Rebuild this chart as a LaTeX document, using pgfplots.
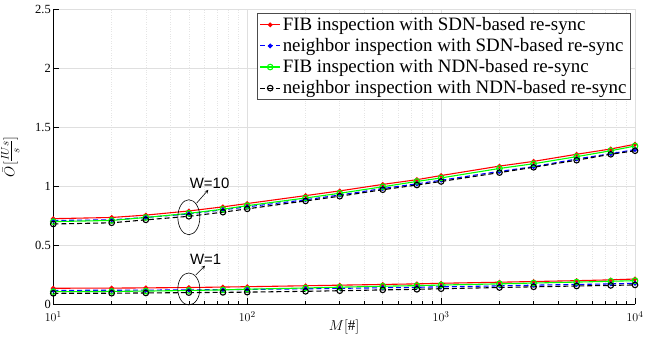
\documentclass[border=0pt]{standalone}
\usepackage{pgfplots}
\usepackage{pgfplotstable}
\pgfplotsset{compat=1.18}
\usepackage{fontspec}
\setmainfont{Liberation Serif}
\newfontfamily\arial{Liberation Sans}
\pgfplotstableread{
x r10 g10 b10 k10 r1 g1 b1 k1
10 0.725 0.700 0.710 0.680 0.136 0.107 0.118 0.093
20 0.735 0.710 0.715 0.690 0.137 0.109 0.119 0.094
30 0.755 0.735 0.735 0.715 0.139 0.112 0.120 0.096
50 0.790 0.770 0.765 0.745 0.142 0.117 0.122 0.099
75 0.825 0.805 0.800 0.780 0.146 0.122 0.124 0.101
100 0.853 0.835 0.825 0.808 0.149 0.128 0.126 0.103
200 0.920 0.900 0.885 0.875 0.157 0.138 0.131 0.110
300 0.960 0.940 0.925 0.915 0.162 0.145 0.135 0.115
500 1.015 0.995 0.980 0.970 0.168 0.153 0.140 0.122
750 1.055 1.040 1.020 1.010 0.173 0.158 0.144 0.127
1000 1.090 1.070 1.050 1.040 0.178 0.163 0.148 0.132
2000 1.170 1.150 1.125 1.115 0.187 0.173 0.156 0.142
3000 1.210 1.190 1.165 1.160 0.193 0.180 0.162 0.148
5000 1.270 1.250 1.230 1.220 0.200 0.188 0.168 0.155
7500 1.315 1.300 1.275 1.270 0.207 0.195 0.173 0.160
10000 1.355 1.340 1.310 1.300 0.214 0.200 0.178 0.164
}\data
\begin{document}
\begin{tikzpicture}
\path[use as bounding box] (-53.3bp,-45.7bp) rectangle (613.7bp,304.3bp);
\begin{axis}[
  at={(0,0)}, anchor=south west, scale only axis,
  width=581.7bp, height=295.3bp,
  xmode=log, xmin=10, xmax=10000, ymin=0, ymax=2.5,
  xtick={10,100,1000,10000},
  ytick={0,0.5,1,1.5,2,2.5},
  yticklabels={0,0.5,1,1.5,2,2.5},
  axis x line*=bottom, axis y line*=left,
  axis line style={black, line width=0.8pt, -},
  tick align=inside,
  major tick length=6bp, minor tick length=3bp,
  tick style={black, line width=0.6pt},
  xmajorgrids, ymajorgrids, xminorgrids,
  major grid style={gray!25, line width=0.6pt},
  minor grid style={gray!20, dotted, line width=0.5pt},
  tick label style={font=\fontsize{12.5}{14}\selectfont},
  xticklabel style={yshift=-4bp},
  yticklabel style={xshift=1bp},
  xlabel={$M[\#]$},
  ylabel={$\bar{O}[\frac{IUs}{s}]$},
  label style={font=\fontsize{15}{17}\selectfont},
  xlabel style={at={(axis description cs:0.5,-0.077)}, anchor=center},
  ylabel style={at={(axis description cs:-0.074,0.5)}, anchor=center, rotate=0},
  clip=false,
  legend cell align=left,
  legend style={at={(0.993,0.986)}, anchor=north east, draw=black!70, line width=0.8pt, fill=white,
    font=\fontsize{19}{20}\selectfont, inner sep=2pt, row sep=2.5pt},
  legend image code/.code={\draw[mark repeat=2,mark phase=2,#1] plot coordinates {(0bp,0bp) (10bp,0bp) (20bp,0bp)};},
  every axis plot/.append style={line width=1.1pt},
]
\addplot[red, mark=*, mark size=1.8pt, mark options={solid}] table[x=x,y=r10]{\data};
\addplot[blue, dash pattern=on 5pt off 3pt, mark=*, mark size=1.8pt, mark options={solid}] table[x=x,y=b10]{\data};
\addplot[green, mark=o, mark size=2.8pt, mark options={solid}] table[x=x,y=g10]{\data};
\addplot[black, dash pattern=on 5pt off 3pt, mark=o, mark size=2.8pt, mark options={solid}] table[x=x,y=k10]{\data};
\legend{FIB inspection with SDN-based re-sync, neighbor inspection with SDN-based re-sync, FIB inspection with NDN-based re-sync, neighbor inspection with NDN-based re-sync}
\addplot[red, mark=*, mark size=1.8pt, mark options={solid}, forget plot] table[x=x,y=r1]{\data};
\addplot[blue, dash pattern=on 5pt off 3pt, mark=*, mark size=1.8pt, mark options={solid}, forget plot] table[x=x,y=b1]{\data};
\addplot[green, mark=o, mark size=2.8pt, mark options={solid}, forget plot] table[x=x,y=g1]{\data};
\addplot[black, dash pattern=on 5pt off 3pt, mark=o, mark size=2.8pt, mark options={solid}, forget plot] table[x=x,y=k1]{\data};
% annotations
\draw[black, line width=0.6pt] (axis cs:50,0.737) ellipse [x radius=11bp, y radius=17.5bp];
\draw[black, line width=0.6pt, ->, >=stealth] (axis cs:54.8,0.856) -- (axis cs:63,0.969);
\node[anchor=south, inner sep=0pt, font=\arial\fontsize{15}{15}\selectfont] at (axis cs:64,0.975) {W=10};
\draw[black, line width=0.6pt] (axis cs:50,0.13) ellipse [x radius=11bp, y radius=16bp];
\draw[black, line width=0.6pt, ->, >=stealth] (axis cs:54.3,0.248) -- (axis cs:60.6,0.327);
\node[anchor=south, inner sep=0pt, font=\arial\fontsize{15}{15}\selectfont] at (axis cs:61,0.333) {W=1};
\end{axis}
\end{tikzpicture}
\end{document}
